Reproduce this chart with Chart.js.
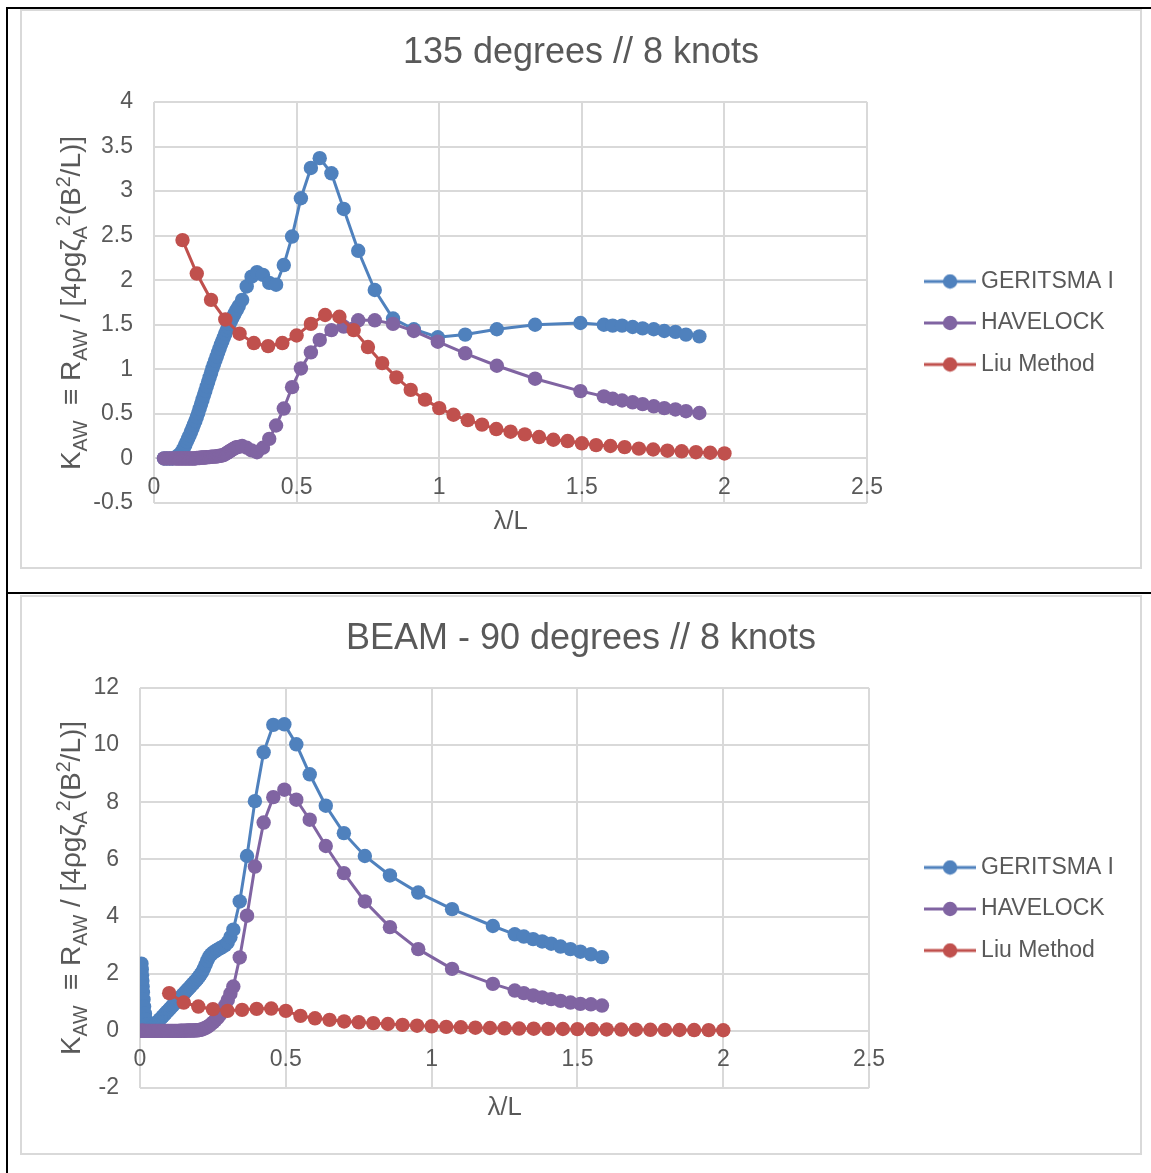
<!DOCTYPE html>
<html>
<head>
<meta charset="utf-8">
<title>Added wave resistance</title>
<script src="https://cdn.jsdelivr.net/npm/chart.js@4.4.1/dist/chart.umd.min.js"></script>
<style>
  html, body { margin: 0; padding: 0; background: #fff; }
  body { position: relative; width: 1151px; height: 1173px; overflow: hidden;
         font-family: "Liberation Sans", Arial, sans-serif; }
  .line { position: absolute; background: #000; }
  .box { position: absolute; left: 20px; width: 1122px; height: 560px;
         box-sizing: border-box; border: 2px solid #d9d9d9; }
  .box canvas { position: absolute; left: -2px; top: -2px; }
  .ytitle { position: absolute; color: #595959; font-size: 28px; line-height: 1;
            white-space: nowrap; transform: translate(-50%, -50%) rotate(-90deg); }
  .ytitle .sb { font-size: 0.7em; vertical-align: -7px; }
  .ytitle .sp { font-size: 0.7em; vertical-align: 10px; }
</style>
</head>
<body>

<div class="line" style="left:6px; top:7px; width:1145px; height:2px"></div>
<div class="line" style="left:6px; top:7px; width:2px; height:1166px"></div>
<div class="line" style="left:6px; top:592px; width:1145px; height:2px"></div>

<div class="box" style="top:9px"><canvas id="chart135" width="1122" height="560"></canvas></div>
<div class="box" style="top:595px"><canvas id="chart90" width="1122" height="560"></canvas></div>

<div class="ytitle" style="left:72px; top:303px">K<span class="sb">AW</span>&nbsp; &equiv; R<span class="sb">AW</span> / [4&rho;g&zeta;<span class="sb">A</span><span class="sp">2</span>(B<span class="sp">2</span>/L)]</div>
<div class="ytitle" style="left:72px; top:888px">K<span class="sb">AW</span>&nbsp; &equiv; R<span class="sb">AW</span> / [4&rho;g&zeta;<span class="sb">A</span><span class="sp">2</span>(B<span class="sp">2</span>/L)]</div>

<script>
// ---------------------------------------------------------------
// Data (x = lambda/L, y = K_AW)
// ---------------------------------------------------------------
var SERIES = ['GERITSMA I', 'HAVELOCK', 'Liu Method'];
var COLORS = ['#4F81BD', '#8064A2', '#C0504D'];

// 135 degrees // 8 knots  (Geritsma and Havelock share the same wave lengths)
var lam135 = [0.035, 0.045, 0.055, 0.065, 0.075, 0.08, 0.085, 0.09, 0.095, 0.10,
              0.105, 0.11, 0.115, 0.12, 0.125, 0.13, 0.135, 0.14, 0.145, 0.15,
              0.155, 0.16, 0.165, 0.17, 0.175, 0.18, 0.185, 0.19, 0.195, 0.20,
              0.205, 0.21, 0.215, 0.22, 0.225, 0.23, 0.235, 0.24, 0.245, 0.25,
              0.255, 0.26, 0.265, 0.27, 0.275, 0.28, 0.285, 0.29, 0.297, 0.309,
              0.325, 0.342, 0.361, 0.382, 0.404, 0.428, 0.455, 0.484, 0.515, 0.55,
              0.581, 0.622, 0.665, 0.716, 0.774, 0.838, 0.911, 0.995, 1.091, 1.202,
              1.336, 1.495, 1.577, 1.608, 1.641, 1.678, 1.713, 1.752, 1.789, 1.828,
              1.865, 1.912];
var ger135 = [0, 0, 0, 0, 0.01, 0.02, 0.03, 0.045, 0.06, 0.09,
              0.12, 0.155, 0.19, 0.225, 0.26, 0.30, 0.34, 0.38, 0.42, 0.465,
              0.51, 0.56, 0.61, 0.66, 0.71, 0.76, 0.81, 0.86, 0.91, 0.96,
              1.01, 1.055, 1.10, 1.145, 1.19, 1.235, 1.28, 1.32, 1.36, 1.40,
              1.44, 1.475, 1.51, 1.545, 1.58, 1.61, 1.64, 1.67, 1.71, 1.78,
              1.93, 2.04, 2.09, 2.06, 1.97, 1.95, 2.17, 2.49, 2.92, 3.26,
              3.37, 3.20, 2.80, 2.33, 1.89, 1.57, 1.45, 1.36, 1.39, 1.45,
              1.50, 1.52, 1.50, 1.49, 1.49, 1.475, 1.46, 1.45, 1.43, 1.42,
              1.39, 1.37];
var hav135 = [0, 0, 0, 0, 0, 0, 0, 0, 0, 0,
              0, 0, 0, 0, 0, 0, 0, 0, 0, 0.005,
              0.005, 0.005, 0.01, 0.01, 0.01, 0.01, 0.015, 0.015, 0.015, 0.02,
              0.02, 0.02, 0.02, 0.025, 0.025, 0.03, 0.03, 0.035, 0.04, 0.05,
              0.06, 0.07, 0.08, 0.09, 0.10, 0.11, 0.12, 0.125, 0.13, 0.14,
              0.12, 0.09, 0.07, 0.12, 0.22, 0.37, 0.56, 0.80, 1.01, 1.19,
              1.33, 1.44, 1.48, 1.55, 1.55, 1.51, 1.43, 1.31, 1.18, 1.04,
              0.895, 0.756, 0.697, 0.67, 0.65, 0.63, 0.61, 0.585, 0.565, 0.55,
              0.53, 0.51];

// Liu method is given on the same lambda/L steps in both charts
var lamLiu = [0.10, 0.15, 0.20, 0.25, 0.30, 0.35, 0.40, 0.45, 0.50, 0.55,
              0.60, 0.65, 0.70, 0.75, 0.80, 0.85, 0.90, 0.95, 1.00, 1.05,
              1.10, 1.15, 1.20, 1.25, 1.30, 1.35, 1.40, 1.45, 1.50, 1.55,
              1.60, 1.65, 1.70, 1.75, 1.80, 1.85, 1.90, 1.95, 2.00];
var liu135 = [2.45, 2.075, 1.78, 1.56, 1.40, 1.295, 1.26, 1.295, 1.38, 1.51,
              1.61, 1.59, 1.44, 1.25, 1.07, 0.91, 0.77, 0.66, 0.565, 0.49,
              0.43, 0.38, 0.33, 0.30, 0.27, 0.24, 0.21, 0.195, 0.17, 0.15,
              0.14, 0.127, 0.11, 0.10, 0.087, 0.08, 0.07, 0.064, 0.056];

// BEAM - 90 degrees // 8 knots
var lam90 = [0.005, 0.006, 0.007, 0.008, 0.009, 0.010, 0.012, 0.014, 0.017, 0.020,
             0.024, 0.028, 0.033, 0.038, 0.043, 0.048, 0.053, 0.058, 0.063, 0.068,
             0.073, 0.078, 0.083, 0.088, 0.093, 0.098, 0.103, 0.108, 0.113, 0.118,
             0.123, 0.128, 0.133, 0.138, 0.143, 0.148, 0.153, 0.158, 0.163, 0.168,
             0.173, 0.178, 0.183, 0.188, 0.193, 0.198, 0.203, 0.208, 0.213, 0.219,
             0.225, 0.231, 0.2375, 0.244, 0.251, 0.258, 0.266, 0.274, 0.283, 0.292,
             0.301, 0.310, 0.320, 0.342, 0.367, 0.394, 0.424, 0.457, 0.495, 0.536,
             0.582, 0.637, 0.699, 0.771, 0.857, 0.954, 1.07, 1.21, 1.285, 1.316,
             1.348, 1.379, 1.41, 1.442, 1.476, 1.51, 1.546, 1.584];
var ger90 = [2.35, 2.15, 1.95, 1.75, 1.55, 1.35, 1.10, 0.85, 0.60, 0.40,
             0.22, 0.10, 0.06, 0.08, 0.13, 0.18, 0.23, 0.29, 0.34, 0.40,
             0.45, 0.51, 0.56, 0.62, 0.67, 0.73, 0.78, 0.84, 0.89, 0.95,
             1.00, 1.06, 1.11, 1.17, 1.22, 1.28, 1.33, 1.39, 1.44, 1.50,
             1.55, 1.61, 1.66, 1.72, 1.78, 1.84, 1.91, 1.98, 2.06, 2.18,
             2.32, 2.47, 2.60, 2.68, 2.74, 2.79, 2.84, 2.89, 2.94, 3.00,
             3.10, 3.28, 3.54, 4.53, 6.12, 8.04, 9.75, 10.71, 10.73, 10.03,
             8.98, 7.88, 6.92, 6.12, 5.44, 4.84, 4.26, 3.67, 3.38, 3.30,
             3.21, 3.13, 3.05, 2.95, 2.86, 2.77, 2.68, 2.58];
var hav90 = [0, 0, 0, 0, 0, 0, 0, 0, 0, 0,
             0, 0, 0, 0, 0, 0, 0, 0, 0, 0,
             0, 0, 0, 0, 0, 0, 0, 0, 0, 0,
             0, 0, 0, 0.005, 0.005, 0.005, 0.005, 0.005, 0.01, 0.01,
             0.01, 0.01, 0.015, 0.015, 0.02, 0.02, 0.03, 0.04, 0.05, 0.08,
             0.10, 0.14, 0.18, 0.24, 0.30, 0.37, 0.45, 0.56, 0.70, 0.88,
             1.08, 1.30, 1.55, 2.57, 4.03, 5.75, 7.29, 8.18, 8.44, 8.09,
             7.39, 6.47, 5.52, 4.53, 3.63, 2.86, 2.17, 1.645, 1.41, 1.32,
             1.24, 1.17, 1.11, 1.05, 0.99, 0.945, 0.93, 0.885];
var liu90 = [1.32, 0.99, 0.85, 0.76, 0.70, 0.735, 0.77, 0.78, 0.70, 0.525,
             0.44, 0.385, 0.33, 0.30, 0.27, 0.24, 0.21, 0.18, 0.16, 0.14,
             0.125, 0.11, 0.10, 0.09, 0.08, 0.075, 0.07, 0.065, 0.06, 0.055,
             0.05, 0.045, 0.04, 0.037, 0.034, 0.031, 0.028, 0.025, 0.022];

// ---------------------------------------------------------------
Chart.defaults.font.family = '"Liberation Sans", Arial, sans-serif';
Chart.defaults.color = '#595959';

var GRID = '#d9d9d9';
var TEXT = '#595959';

// Excel style numbers: 4, 3.5, 3 ... (no trailing .0)
function plainNum(v) { return String(Math.round(v * 100) / 100); }

// legend marker: short line with a dot, like the Excel legend
var icons = {};
function legendIcon(color) {
    if (icons[color]) return icons[color];
    var c = document.createElement('canvas');
    c.width = 52; c.height = 16;
    var g = c.getContext('2d');
    g.strokeStyle = color; g.lineWidth = 3;
    g.beginPath(); g.moveTo(0, 8); g.lineTo(52, 8); g.stroke();
    g.fillStyle = color;
    g.beginPath(); g.arc(26, 8, 7.2, 0, Math.PI * 2); g.fill();
    icons[color] = c;
    return c;
}

function series(i, xs, ys) {
    var pts = xs.map(function (x, k) { return { x: x, y: ys[k] }; });
    return {
        label: SERIES[i],
        data: pts,
        borderColor: COLORS[i],
        backgroundColor: COLORS[i],
        pointBackgroundColor: COLORS[i],
        borderWidth: 3,
        pointRadius: 7.2,
        pointHoverRadius: 7.2,
        pointBorderWidth: 0,
        tension: 0,
        order: 3 - i          // Liu on top, like Excel's draw order
    };
}

function makeChart(id, title, datasets, y, box) {
    return new Chart(document.getElementById(id), {
        type: 'line',
        data: { datasets: datasets },
        options: {
            responsive: false,
            animation: false,
            events: [],
            layout: { padding: { left: box.pad, right: box.pad, top: 0, bottom: 0 } },
            plugins: {
                title: {
                    display: true, text: title, color: TEXT,
                    font: { size: 36, weight: 'normal' },
                    padding: { top: 22.4, bottom: 27.4 }
                },
                legend: {
                    position: 'right',
                    align: 'center',
                    maxWidth: 400,
                    // empty title only pushes the entries down a little
                    title: { display: true, text: '', font: { size: 10, lineHeight: '68px' }, padding: 0 },
                    labels: {
                        usePointStyle: true,
                        pointStyleWidth: 39,
                        padding: 18.5,
                        color: TEXT,
                        font: { size: 23 },
                        sort: function (a, b) { return a.datasetIndex - b.datasetIndex; },
                        generateLabels: function (chart) {
                            var items = Chart.defaults.plugins.legend.labels.generateLabels(chart);
                            items.forEach(function (it) { it.pointStyle = legendIcon(COLORS[it.datasetIndex]); });
                            return items;
                        }
                    }
                },
                tooltip: { enabled: false }
            },
            scales: {
                x: {
                    type: 'linear',
                    position: { y: 0 },
                    min: 0, max: 2.5,
                    ticks: { stepSize: 0.5, padding: 15, color: TEXT, font: { size: 23 }, maxRotation: 0, callback: plainNum },
                    grid: { color: GRID, lineWidth: 2, drawTicks: false },
                    border: { display: false },
                    afterFit: function (s) { s.height = 0; }
                },
                xt: {
                    type: 'linear',
                    position: 'bottom',
                    ticks: { display: false },
                    grid: { display: false, drawTicks: false },
                    border: { display: false },
                    title: { display: true, text: 'λ/L', color: TEXT, font: { size: 25.7 }, padding: { top: 0, bottom: 31.6 } },
                    afterFit: function (s) { s.height = box.bottomH; }
                },
                y: {
                    type: 'linear',
                    min: y.min, max: y.max,
                    ticks: { stepSize: y.step, padding: 21, color: TEXT, font: { size: 23 }, callback: plainNum },
                    grid: { color: GRID, lineWidth: 2, drawTicks: false },
                    border: { display: false },
                    afterFit: function (s) { s.width = box.yW; }
                },
                yr: {
                    type: 'linear',
                    position: 'right',
                    ticks: { display: false },
                    grid: { display: false, drawTicks: false },
                    border: { display: false },
                    afterFit: function (s) { s.width = box.gap; }
                }
            }
        }
    });
}

makeChart('chart135', '135 degrees // 8 knots', [
    series(0, lam135, ger135),
    series(1, lam135, hav135),
    series(2, lamLiu, liu135)
], { min: -0.5, max: 4, step: 0.5 }, { pad: 18, yW: 116, gap: 45, bottomH: 66 });

makeChart('chart90', 'BEAM - 90 degrees // 8 knots', [
    series(0, lam90, ger90),
    series(1, lam90, hav90),
    series(2, lamLiu, liu90)
], { min: -2, max: 12, step: 2 }, { pad: 18, yW: 102, gap: 43, bottomH: 67 });
</script>
</body>
</html>
